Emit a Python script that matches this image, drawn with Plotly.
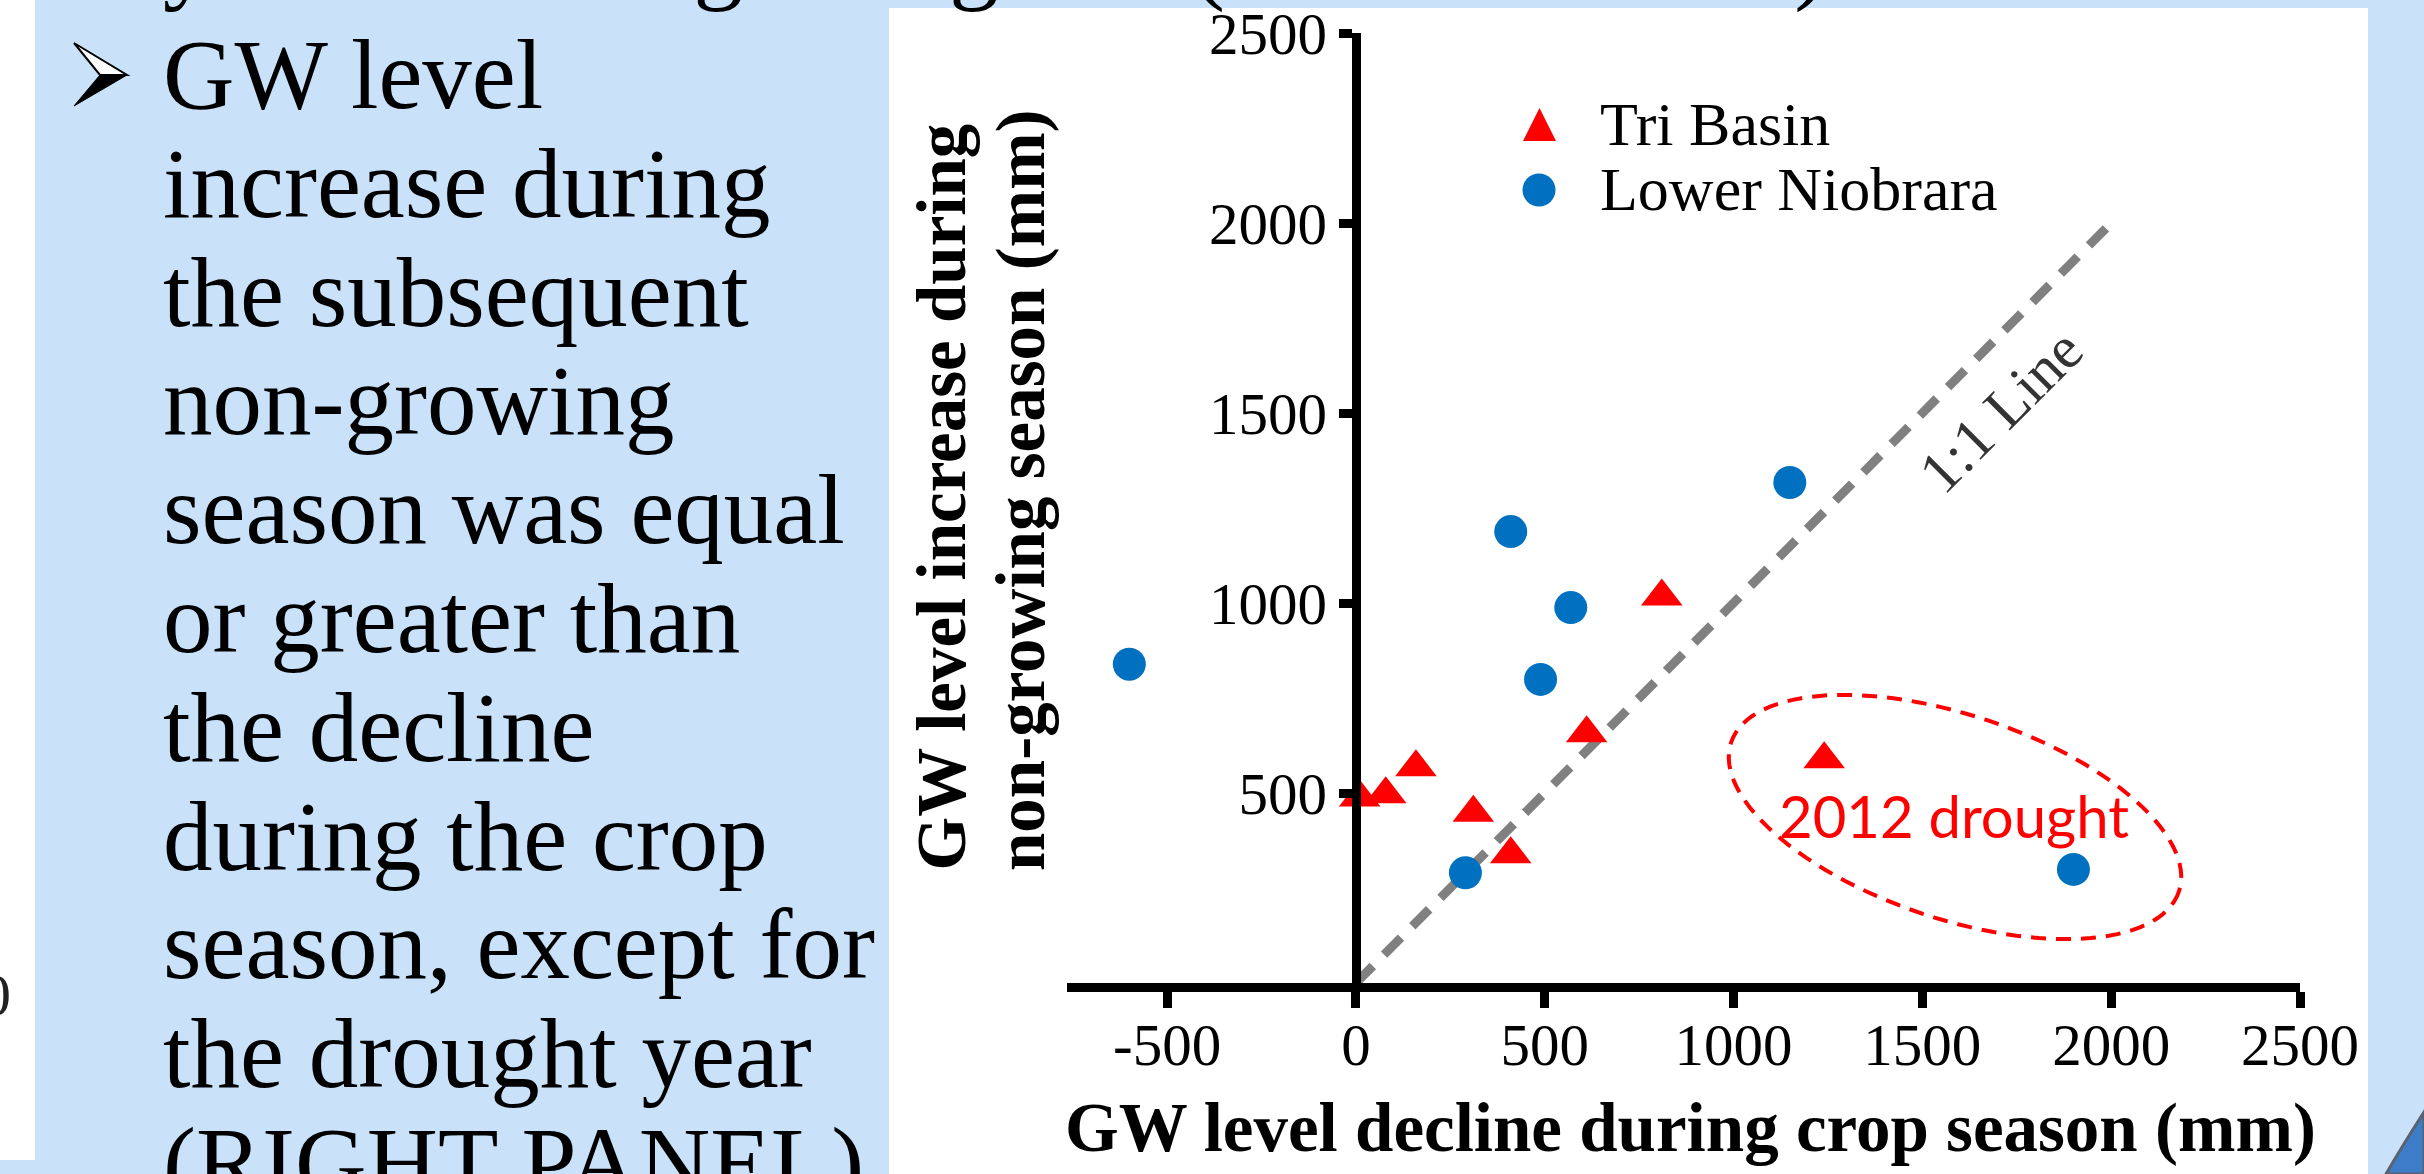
import numpy as np
import plotly.graph_objects as go

# ---------------- data ----------------
tri_x = [10, 79, 159, 311, 410, 611, 810, 1240]
tri_y = [488, 497, 568, 448, 339, 657, 1017, 589]
nio_x = [-600, 290, 410, 489, 569, 1149, 1900]
nio_y = [839, 290, 1188, 799, 988, 1317, 299]
one_to_one = [0, 2000]
x_ticks = [-500, 0, 500, 1000, 1500, 2000, 2500]
y_ticks = [500, 1000, 1500, 2000, 2500]
x_range = [-765, 2500]
y_range = [0, 2500]

slide_lines = ["GW level", "increase during", "the subsequent", "non-growing",
               "season was equal", "or greater than", "the decline",
               "during the crop", "season, except for", "the drought year",
               "(RIGHT PANEL)"]

# ---------------- geometry helpers ----------------
W, H = 2424, 1174
L, T, PW, PH = 1067, 33, 1233, 950
BLUE = "#C9E2F9"
SERIF = "Liberation Serif, Times New Roman, serif"


def px(xp):
    return (xp - L) / PW


def py(yp):
    return (T + PH - yp) / PH


def p2x(xp):
    return x_range[0] + (xp - L) / PW * (x_range[1] - x_range[0])


def p2y(yp):
    return y_range[0] + (T + PH - yp) / PH * (y_range[1] - y_range[0])


def ppath(points):
    return "M " + " L ".join(f"{px(a):.5f},{py(b):.5f}" for a, b in points) + " Z"


fig = go.Figure()

fig.add_trace(go.Scatter(x=one_to_one, y=one_to_one, mode="lines",
                         line=dict(color="#808080", width=9, dash="24px,16px"),
                         name="1:1 Line", hoverinfo="skip"))
fig.add_trace(go.Scatter(x=nio_x, y=nio_y, mode="markers", name="Lower Niobrara",
                         marker=dict(symbol="circle", size=33, color="#0070C0")))
fig.add_trace(go.Scatter(x=tri_x, y=tri_y, mode="markers", name="Tri Basin",
                         marker=dict(symbol="triangle-up", size=36, color="#FF0000")))

shapes = []
# white strip at far left
shapes.append(dict(type="rect", xref="paper", yref="paper", x0=px(0), x1=px(35),
                   y0=py(1160), y1=py(0), fillcolor="white", line=dict(width=0),
                   layer="below"))
# white chart panel
shapes.append(dict(type="rect", xref="paper", yref="paper", x0=px(889), x1=px(2368),
                   y0=py(1174), y1=py(8), fillcolor="white", line=dict(width=0),
                   layer="below"))
# dark blue arc at bottom right
arc = (f"M {px(2424)},{py(1112)} Q {px(2401)},{py(1148)} {px(2386)},{py(1174)} "
       f"L {px(2424)},{py(1174)} Z")
shapes.append(dict(type="path", xref="paper", yref="paper", path=arc,
                   fillcolor="#3C7CC8", line=dict(color="#5a6270", width=3),
                   layer="above"))

# dashed ellipse round the 2012 drought points (pixel space -> data space)
cx, cy, ea, eb, th = 1955, 817, 236, 102, np.deg2rad(18.4)
t = np.linspace(0, 2 * np.pi, 121)
ex = cx + ea * np.cos(t) * np.cos(th) - eb * np.sin(t) * np.sin(th)
ey = cy + ea * np.cos(t) * np.sin(th) + eb * np.sin(t) * np.cos(th)
epath = "M " + " L ".join(f"{p2x(a):.2f},{p2y(b):.2f}" for a, b in zip(ex, ey)) + " Z"
shapes.append(dict(type="path", xref="x", yref="y", path=epath,
                   line=dict(color="#FF0000", width=4, dash="15px,10px"),
                   layer="above"))

# legend keys
shapes.append(dict(type="path", xref="paper", yref="paper",
                   path=ppath([(1523, 141), (1556, 141), (1539.5, 108)]),
                   fillcolor="#FF0000", line=dict(width=0), layer="above"))
shapes.append(dict(type="circle", xref="paper", yref="paper",
                   x0=px(1522.5), x1=px(1555.5), y0=py(206.5), y1=py(173.5),
                   fillcolor="#0070C0", line=dict(width=0), layer="above"))

# bullet arrowhead (3-D style: outlined upper half, filled lower half)
shapes.append(dict(type="path", xref="paper", yref="paper",
                   path=ppath([(74, 43), (127, 75), (100, 75)]),
                   fillcolor="white", line=dict(color="black", width=2), layer="above"))
shapes.append(dict(type="path", xref="paper", yref="paper",
                   path=ppath([(100, 75), (127, 75), (74, 106)]),
                   fillcolor="black", line=dict(color="black", width=1), layer="above"))

ann = []
# legend labels
ann.append(dict(text="Tri Basin", xref="paper", yref="paper", x=px(1598), y=py(145 - 0.3375 * 62),
                xanchor="left", yanchor="middle", showarrow=False,
                font=dict(family=SERIF, size=62, color="black")))
ann.append(dict(text="Lower Niobrara", xref="paper", yref="paper", x=px(1598), y=py(210 - 0.3375 * 62),
                xanchor="left", yanchor="middle", showarrow=False,
                font=dict(family=SERIF, size=62, color="black")))
# 1:1 line label
ann.append(dict(text="1:1 Line", xref="x", yref="y", x=p2x(2001), y=p2y(411),
                textangle=-45, showarrow=False,
                font=dict(family=SERIF, size=60, color="#333333")))
# drought label
ann.append(dict(text="2012 drought", xref="x", yref="y", x=p2x(1954), y=p2y(815),
                showarrow=False, font=dict(family="Lato, Open Sans, sans-serif", size=58,
                                           color="#FF0000")))
# axis titles
ann.append(dict(text="<b>GW level decline during crop season (mm)</b>", xref="paper", yref="paper",
                x=px(1690), y=py(1151 - 0.3375 * 69), xanchor="center", yanchor="middle",
                showarrow=False, font=dict(family=SERIF, size=69, color="black")))
ann.append(dict(text="<b>GW level increase during</b>", xref="paper", yref="paper",
                x=px(941), y=py(873), xanchor="center", yanchor="bottom", textangle=-90,
                showarrow=False, font=dict(family=SERIF, size=69, color="black")))
ann.append(dict(text="<b>non-growing season (mm)</b>", xref="paper", yref="paper",
                x=px(1021), y=py(873), xanchor="center", yanchor="bottom", textangle=-90,
                showarrow=False, font=dict(family=SERIF, size=69, color="black")))

# slide text on the left
FS = 99
for i, line in enumerate(slide_lines):
    base = 108 + i * 108.8
    ann.append(dict(text=line, xref="paper", yref="paper", x=px(161), y=py(base - 0.3375 * FS),
                    xanchor="left", yanchor="middle", showarrow=False,
                    font=dict(family=SERIF, size=FS, color="black")))
# cut-off line above the bullet (only its descenders show)
ann.append(dict(text="year following drought", xref="paper", yref="paper",
                x=px(161), y=py(-9 - 0.3375 * FS), xanchor="left", yanchor="middle",
                showarrow=False, font=dict(family=SERIF, size=FS, color="black")))
ann.append(dict(text="(LEFT PANEL)", xref="paper", yref="paper",
                x=px(1190), y=py(-9 - 0.3375 * FS), xanchor="left", yanchor="middle",
                showarrow=False, font=dict(family=SERIF, size=FS, color="black")))
# cut-off tick label at the far left
ann.append(dict(text="0", xref="paper", yref="paper", x=px(13), y=py(995),
                xanchor="right", yanchor="middle", showarrow=False,
                font=dict(family=SERIF, size=60, color="#222222")))

axis_common = dict(showline=True, linecolor="black", linewidth=9, ticks="outside",
                   tickwidth=9, tickcolor="black", showgrid=False, zeroline=False,
                   tickmode="array", ticklabeloverflow="allow",
                   tickfont=dict(family=SERIF, size=59, color="black"))

fig.update_layout(
    width=W, height=H,
    margin=dict(l=L, r=W - L - PW, t=T, b=H - T - PH, autoexpand=False),
    paper_bgcolor=BLUE, plot_bgcolor="white", showlegend=False,
    xaxis=dict(range=x_range, tickvals=x_ticks, ticktext=[str(v) for v in x_ticks],
               ticklen=16, ticklabelstandoff=-14, **axis_common),
    yaxis=dict(range=y_range, tickvals=y_ticks, ticktext=[str(v) for v in y_ticks],
               anchor="free", position=(0 - x_range[0]) / (x_range[1] - x_range[0]),
               ticklen=13, **axis_common),
    shapes=shapes, annotations=ann,
)

fig.write_html("out.html", config={"displayModeBar": False},
               post_script="document.body.style.margin='0px';document.body.style.overflow='hidden';")
